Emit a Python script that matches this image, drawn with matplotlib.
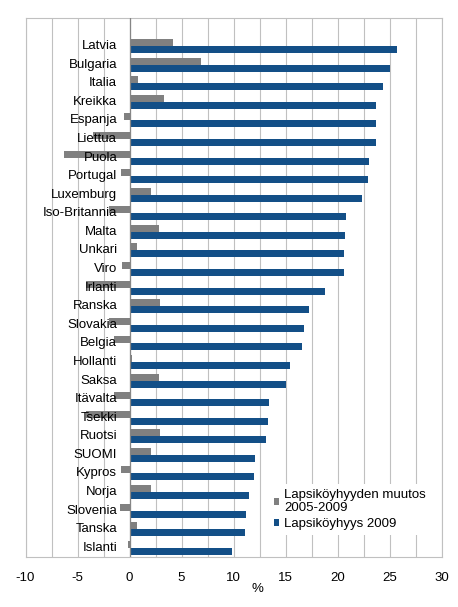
import matplotlib
matplotlib.use("Agg")
import matplotlib.pyplot as plt
from matplotlib.patches import Patch
from matplotlib.transforms import offset_copy
import numpy as np

plt.rcParams['font.family'] = ['Liberation Sans', 'DejaVu Sans']

countries = ["Latvia", "Bulgaria", "Italia", "Kreikka", "Espanja", "Liettua", "Puola",
             "Portugal", "Luxemburg", "Iso-Britannia", "Malta", "Unkari", "Viro",
             "Irlanti", "Ranska", "Slovakia", "Belgia", "Hollanti", "Saksa", "Itävalta",
             "Tsekki", "Ruotsi", "SUOMI", "Kypros", "Norja", "Slovenia", "Tanska", "Islanti"]
poverty_2009 = [25.7, 25.0, 24.4, 23.7, 23.7, 23.7, 23.0, 22.9, 22.4, 20.8, 20.7, 20.6, 20.6,
                18.8, 17.3, 16.8, 16.6, 15.4, 15.0, 13.4, 13.3, 13.1, 12.1, 12.0, 11.5, 11.2,
                11.1, 9.9]
change_2005_2009 = [4.2, 6.9, 0.8, 3.3, -0.5, -3.5, -6.3, -0.8, 2.1, -2.0, 2.8, 0.7, -0.7,
                    -4.2, 2.9, -2.0, -1.5, 0.2, 2.8, -1.5, -4.2, 2.9, 2.1, -0.8, 2.1, -0.9,
                    0.7, -0.1]
label_change = "Lapsiköyhyyden muutos\n2005-2009"
label_poverty = "Lapsiköyhyys 2009"
xticks = [-10, -5, 0, 5, 10, 15, 20, 25, 30]

W, H = 458, 607
fig = plt.figure(figsize=(W / 100, H / 100), dpi=100)
ax = fig.add_axes([25.5 / W, 1 - 556.7 / H, 416 / W, 538.7 / H])

gray = "#808080"
blue = "#134F87"
fs = 9.5

y = np.arange(len(countries))
h = 0.375
ax.barh(y - h / 2, change_2005_2009, height=h, color=gray, zorder=3)
ax.barh(y + h / 2, poverty_2009, height=h, color=blue, zorder=3)

ax.set_xlim(-10, 30)
ax.set_ylim(27.48, -1.51)
ax.set_xticks(xticks)
ax.set_xticklabels([str(t) for t in xticks], fontsize=fs)
ax.set_xticks(np.arange(-10, 30.1, 2.5), minor=True)
ax.set_yticks([])
ax.tick_params(axis='x', which='both', length=0, pad=11)
ax.grid(True, axis='x', which='both', color='#C0C0C0', lw=0.8, zorder=0)
ax.set_axisbelow(True)
for s in ax.spines.values():
    s.set_color('#C0C0C0')
    s.set_linewidth(0.8)
ax.axvline(0, color='#868686', lw=0.9, zorder=4)

trans = offset_copy(ax.transData, fig=fig, x=-12.3, y=0, units='dots')
for yi, name in zip(y, countries):
    ax.text(0, yi, name, transform=trans, ha='right', va='center', fontsize=fs,
            color='black', zorder=5)

fig.text(257.7 / W, 1 - 589 / H, "%", ha='center', va='center', fontsize=fs)

handles = [Patch(facecolor=gray, edgecolor='none'), Patch(facecolor=blue, edgecolor='none')]
leg = ax.legend(handles, [label_change, label_poverty], loc='upper left',
                bbox_to_anchor=(269 / W, 1 - 484 / H), bbox_transform=fig.transFigure,
                fontsize=fs, frameon=True, fancybox=False, framealpha=1,
                handlelength=0.4, handleheight=0.4, handletextpad=0.4,
                labelspacing=0.3, borderpad=0.35, borderaxespad=0)
leg.get_frame().set_facecolor('white')
leg.get_frame().set_edgecolor('none')
leg.set_zorder(6)

fig.savefig("out.png", dpi=100)
